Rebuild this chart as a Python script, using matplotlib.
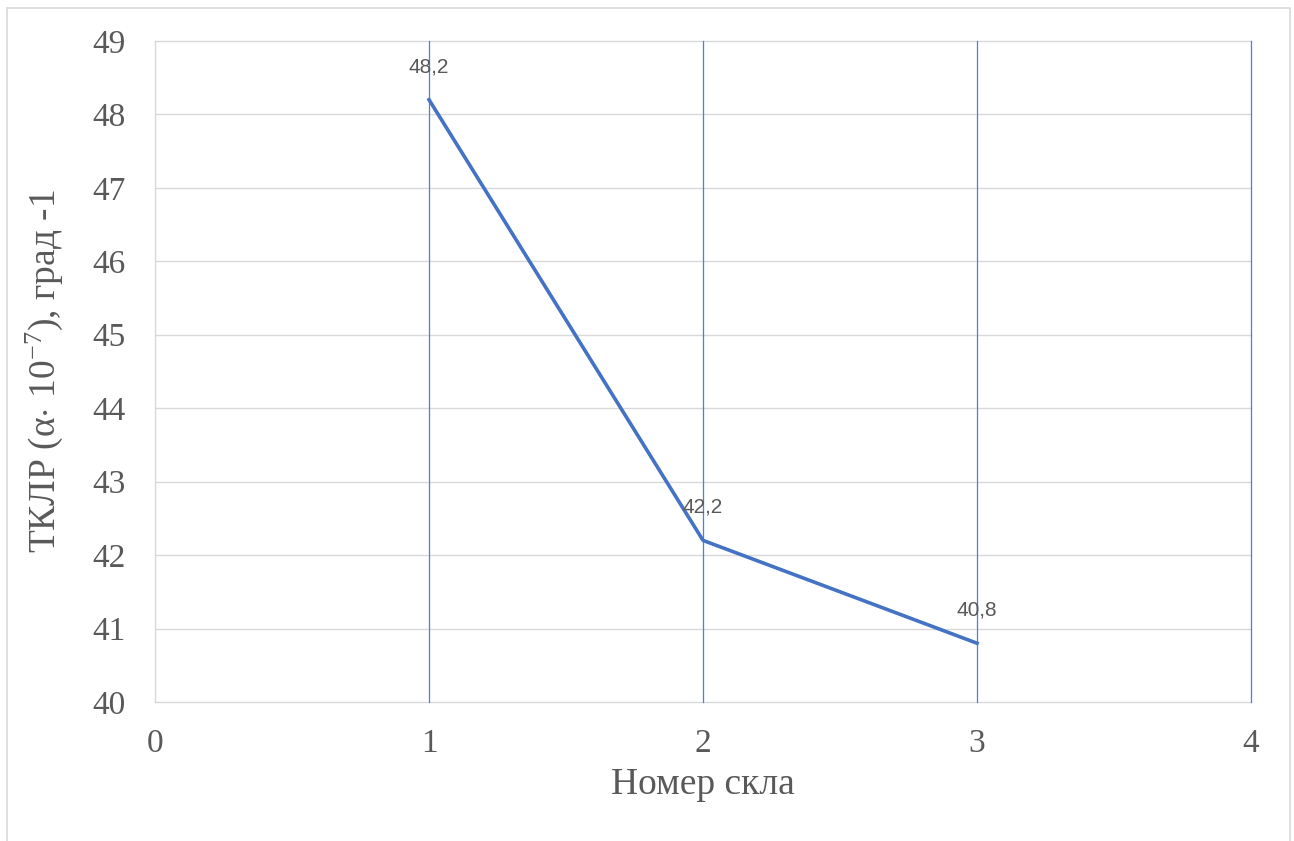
import matplotlib.pyplot as plt
from matplotlib.patches import Rectangle

# glass number vs. thermal expansion coefficient
glass_no = [1, 2, 3]
tklr = [48.2, 42.2, 40.8]
tklr_labels = ['48,2', '42,2', '40,8']

x_ticks = [0, 1, 2, 3, 4]
y_ticks = [40, 41, 42, 43, 44, 45, 46, 47, 48, 49]

plt.rcParams['mathtext.fontset'] = 'custom'
plt.rcParams['mathtext.rm'] = 'Liberation Serif'
plt.rcParams['mathtext.it'] = 'Liberation Serif:italic'

blue = '#4472C4'
grey = '#595959'

fig = plt.figure(figsize=(12.94, 8.41), dpi=100)
ax = fig.add_axes([0.1198, 0.1653, 0.847, 0.786])

# outer chart frame
fig.patches.append(Rectangle((7 / 1294, -0.05), 1283 / 1294, 1.05 - 8 / 841,
                             transform=fig.transFigure, fill=False,
                             edgecolor='#d9d9d9', lw=1.2))

ax.set_xlim(0, 4)
ax.set_ylim(40, 49)
ax.set_xticks(x_ticks)
ax.set_yticks(y_ticks)

for y in y_ticks:
    ax.axhline(y, color='#d9d9d9', lw=1, zorder=0, clip_on=False)
ax.axvline(0, color='#d9d9d9', lw=1, zorder=0, clip_on=False)
for x in x_ticks[1:]:
    ax.axvline(x, color='#4f7fd6', lw=0.9, zorder=1, clip_on=False)

ax.plot(glass_no, tklr, color=blue, lw=2.6, zorder=3)
for x, y, s in zip(glass_no, tklr, tklr_labels):
    ax.annotate(s, (x, y), xytext=(0, 17), textcoords='offset points',
                ha='center', va='bottom', fontsize=15, color=grey,
                family='Liberation Sans')

for s in ax.spines.values():
    s.set_visible(False)
ax.tick_params(length=0, labelsize=24, labelcolor=grey)
ax.tick_params(axis='y', pad=21)
ax.tick_params(axis='x', pad=19)
for lab in ax.get_xticklabels() + ax.get_yticklabels():
    lab.set_family('Liberation Serif')

ax.set_xlabel('Номер скла', family='Liberation Serif', fontsize=27,
              color=grey, labelpad=6)
ax.set_ylabel(r'ТКЛР (α$\cdot$ 10$^{-7}$), град -1', family='Liberation Serif',
              fontsize=27, color=grey, labelpad=20)

fig.savefig('out.png', dpi=100)
